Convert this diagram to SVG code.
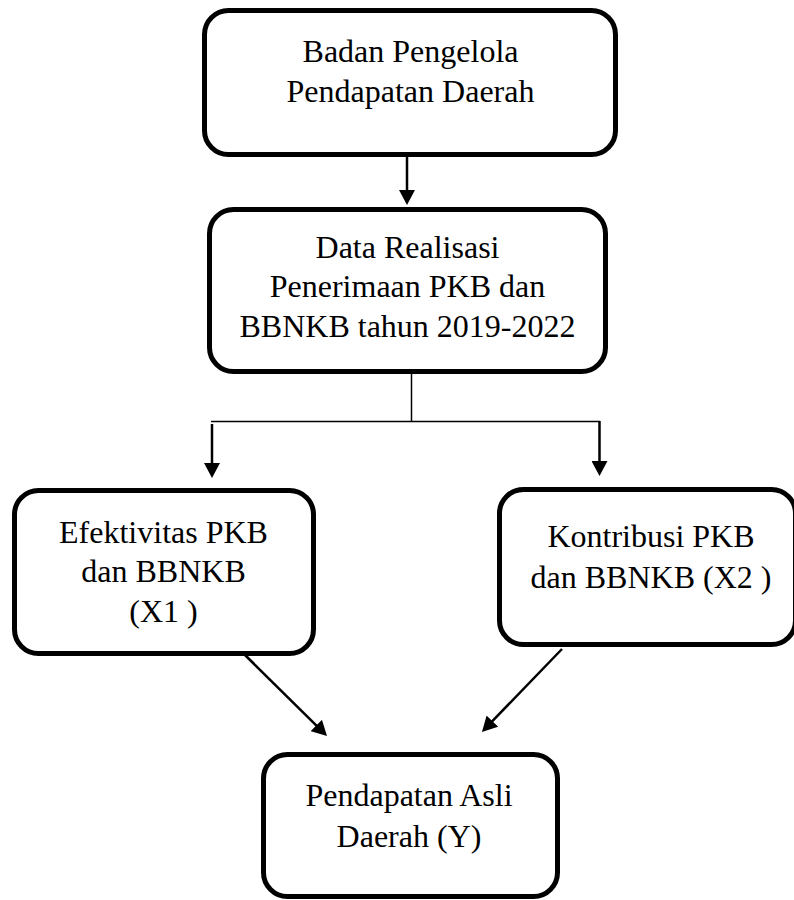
<svg xmlns="http://www.w3.org/2000/svg" width="794" height="900" viewBox="0 0 794 900">
<style>
.box{fill:#fff;stroke:#000;stroke-width:5}
.t{font-family:"Liberation Serif","Times New Roman",serif;font-size:32px;fill:#000;text-anchor:middle}
.thin{stroke:#000;stroke-width:1.5;fill:none}
.arr{stroke:#000;stroke-width:2.5;fill:none;marker-end:url(#ah)}
</style>
<defs>
<marker id="ah" markerUnits="userSpaceOnUse" viewBox="0 0 15 16" markerWidth="15" markerHeight="16" refX="7" refY="8" orient="auto">
<path d="M0,0 L15,8 L0,16 z" fill="#000"/>
</marker>
</defs>
<rect width="794" height="900" fill="#fff"/>
<g id="connectors">
<line class="arr" x1="407" y1="157" x2="407" y2="197"/>
<line class="thin" x1="411.5" y1="374" x2="411.5" y2="422"/>
<line class="thin" x1="211" y1="421.5" x2="600" y2="421.5"/>
<line class="arr" x1="212" y1="424" x2="212" y2="470"/>
<line class="arr" x1="599.5" y1="421" x2="599.5" y2="468"/>
<line class="arr" x1="245" y1="655" x2="321.3" y2="730.4"/>
<line class="arr" x1="562" y1="649" x2="487.5" y2="726.2"/>
</g>
<g id="n1">
<rect class="box" x="204.5" y="10.5" width="411" height="144" rx="24"/>
<text class="t" x="410.5" y="62">Badan Pengelola</text>
<text class="t" x="410.5" y="102">Pendapatan Daerah</text>
</g>
<g id="n2">
<rect class="box" x="209.5" y="209.5" width="396" height="162" rx="24"/>
<text class="t" x="407.5" y="258">Data Realisasi</text>
<text class="t" x="407.5" y="297">Penerimaan PKB dan</text>
<text class="t" x="407.5" y="337">BBNKB tahun 2019-2022</text>
</g>
<g id="n3">
<rect class="box" x="14.5" y="490.5" width="299" height="163" rx="24"/>
<text class="t" x="163.5" y="543">Efektivitas PKB</text>
<text class="t" x="163.5" y="582">dan BBNKB</text>
<text class="t" x="163.5" y="622">(X1 )</text>
</g>
<g id="n4">
<rect class="box" x="499.5" y="489.5" width="296" height="155" rx="24"/>
<text class="t" x="651" y="547">Kontribusi PKB</text>
<text class="t" x="651" y="588">dan BBNKB (X2 )</text>
</g>
<g id="n5">
<rect class="box" x="263.5" y="754.5" width="294" height="142" rx="24"/>
<text class="t" x="409" y="806">Pendapatan Asli</text>
<text class="t" x="409" y="847">Daerah (Y)</text>
</g>
</svg>
